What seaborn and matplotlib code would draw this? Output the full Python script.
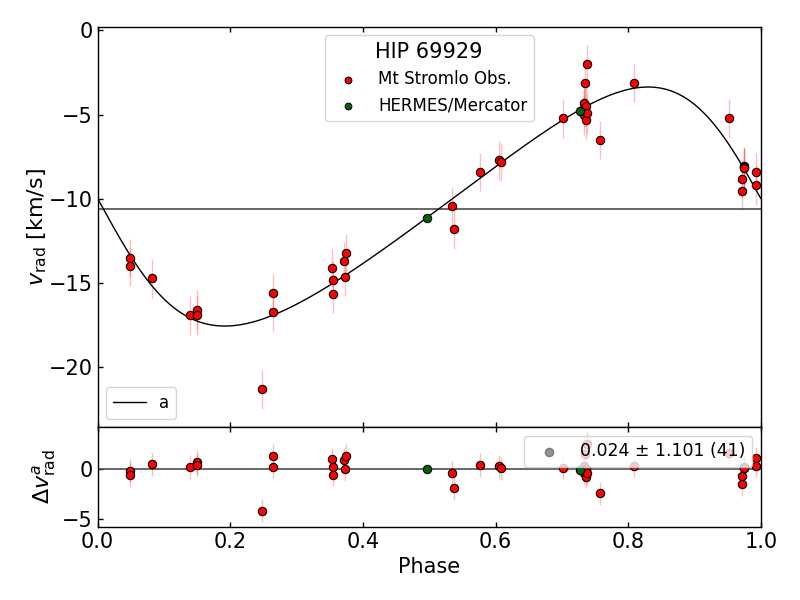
import numpy as np
import matplotlib
matplotlib.use("Agg")
import matplotlib.pyplot as plt
import seaborn as sns

sns.set_style("ticks", {"xtick.direction": "in", "ytick.direction": "in"})
plt.rcParams['font.family'] = ['DejaVu Sans']
plt.rcParams.update({'text.color': 'k', 'axes.labelcolor': 'k',
                     'xtick.color': 'k', 'ytick.color': 'k'})

# Mt Stromlo observations (phase, v_rad km/s, error)
phase_ms = [0.0485, 0.0495, 0.0817, 0.1394, 0.1495, 0.1500, 0.2475, 0.2640, 0.2645,
            0.3540, 0.3542, 0.3544, 0.3710, 0.3730, 0.3745, 0.5340, 0.5380, 0.5760,
            0.6050, 0.6077, 0.7016, 0.7330, 0.7328, 0.7340, 0.7348, 0.7358, 0.7360,
            0.7373, 0.7378, 0.7574, 0.8086, 0.9518, 0.9714, 0.9720, 0.9744, 0.9748,
            0.9750, 0.9925, 0.9935]
vrad_ms = [-13.52, -14.01, -14.72, -16.92, -16.60, -16.92, -21.33, -16.72, -15.62,
           -14.12, -14.82, -15.63, -13.72, -14.63, -13.23, -10.44, -11.82, -8.42,
           -7.71, -7.82, -5.22, -4.31, -5.04, -4.61, -3.12, -5.32, -4.51,
           -4.92, -2.02, -6.52, -3.12, -5.22, -9.53, -8.81, -8.07, -8.13,
           -8.17, -8.43, -9.21]
err_ms = [1.15, 1.15, 1.15, 1.17, 1.15, 1.15, 1.15, 1.15, 1.15,
          1.15, 1.15, 1.15, 1.15, 1.15, 1.15, 1.15, 1.15, 1.15,
          1.15, 1.15, 1.15, 1.15, 1.15, 1.15, 1.15, 1.15, 1.15,
          1.15, 1.15, 1.15, 1.15, 1.15, 1.15, 1.15, 1.15, 1.15,
          1.15, 1.15, 1.15]

# HERMES/Mercator observations
phase_her = [0.4960, 0.7280]
vrad_her = [-11.15, -4.78]
err_her = [0.05, 0.05]

# orbit "a"
gamma = -10.6
K = 7.1
ecc = 0.22
omega = np.radians(85.0)
t_peri = -0.002

star = "HIP 69929"
stat_label = "0.024 \u00b1 1.101 (41)"


def orbit(ph):
    M = 2 * np.pi * (np.asarray(ph) - t_peri)
    E = M.copy()
    for _ in range(50):
        E = E - (E - ecc * np.sin(E) - M) / (1 - ecc * np.cos(E))
    nu = 2 * np.arctan2(np.sqrt(1 + ecc) * np.sin(E / 2), np.sqrt(1 - ecc) * np.cos(E / 2))
    return gamma + K * (np.cos(nu + omega) + ecc * np.cos(omega))


grid = np.linspace(0, 1, 600)
res_ms = np.array(vrad_ms) - orbit(phase_ms)
res_her = np.array(vrad_her) - orbit(phase_her)

fig = plt.figure(figsize=(8, 6), dpi=100)
gs = fig.add_gridspec(2, 1, height_ratios=[4, 1], hspace=0,
                      left=0.122, right=0.951, top=0.955, bottom=0.122)
ax = fig.add_subplot(gs[0])
axr = fig.add_subplot(gs[1], sharex=ax)

# main panel
ax.axhline(gamma, color='0.3', lw=1.2, zorder=1)
ax.errorbar(phase_ms, vrad_ms, yerr=err_ms, fmt='none', ecolor='red', alpha=0.25, lw=1, zorder=2)
sns.lineplot(x=grid, y=orbit(grid), color='k', lw=1, ax=ax, label='a', zorder=2)
sns.scatterplot(x=phase_ms, y=vrad_ms, color='red', edgecolor='k', linewidth=0.8, s=36,
                ax=ax, label='Mt Stromlo Obs.', zorder=3)
sns.scatterplot(x=phase_her, y=vrad_her, color='darkgreen', edgecolor='k', linewidth=0.8, s=36,
                ax=ax, label='HERMES/Mercator', zorder=3)

handles, labels = ax.get_legend_handles_labels()
leg1 = ax.legend(handles[1:], labels[1:], title=star, loc='upper center', fontsize=12,
                 title_fontsize=15, markerscale=0.8, framealpha=0.8)
ax.add_artist(leg1)
ax.legend(handles[:1], labels[:1], loc='lower left', fontsize=12)

ax.set_xlim(0, 1)
ax.set_ylim(-23.55, 0.2)
ax.set_yticks([0, -5, -10, -15, -20])
ax.set_ylabel(r'$v_\mathrm{rad}$ [km/s]', fontsize=16, labelpad=0)
ax.tick_params(top=True, labelbottom=False, direction='in', labelsize=15, length=3.5, width=1)

# residual panel
axr.axhline(0, color='0.3', lw=1.2, zorder=1)
axr.errorbar(phase_ms, res_ms, yerr=err_ms, fmt='none', ecolor='red', alpha=0.25, lw=1, zorder=2)
sns.scatterplot(x=phase_ms, y=res_ms, color='red', edgecolor='k', linewidth=0.8, s=36,
                ax=axr, zorder=3, legend=False)
sns.scatterplot(x=phase_her, y=res_her, color='darkgreen', edgecolor='k', linewidth=0.8, s=36,
                ax=axr, zorder=3, legend=False)
dummy = axr.scatter([], [], color='0.3', alpha=0.6, s=36, label=stat_label)
axr.legend(handles=[dummy], loc='upper right', fontsize=12.5, framealpha=0.8)

axr.set_ylim(-5.75, 4.15)
axr.set_yticks([-5, 0])
axr.set_xticks([0.0, 0.2, 0.4, 0.6, 0.8, 1.0])
axr.set_xlabel('Phase', fontsize=15)
axr.set_ylabel(r'$\Delta v^a_\mathrm{rad}$', fontsize=16, labelpad=3)
axr.tick_params(top=True, direction='in', labelsize=15, length=3.5, width=1)

for a in (ax, axr):
    for s in a.spines.values():
        s.set_color('k')
        s.set_linewidth(1)

fig.savefig('out.png', dpi=100)
